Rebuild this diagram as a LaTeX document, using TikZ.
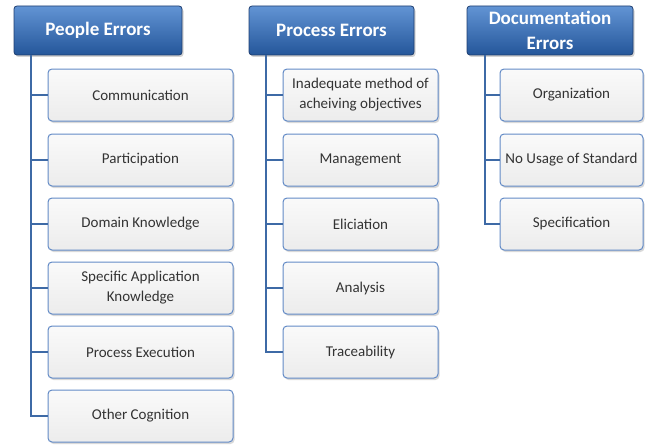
\documentclass[tikz,border=0pt]{standalone}
\usepackage{fontspec}
\setmainfont{Carlito}
\usetikzlibrary{shadows}
\definecolor{hdrtop}{RGB}{98,148,212}
\definecolor{hdrbot}{RGB}{36,86,154}
\definecolor{hdrline}{RGB}{30,62,112}
\definecolor{itemline}{RGB}{98,138,198}
\definecolor{itemtop}{RGB}{250,250,250}
\definecolor{itembot}{RGB}{236,236,236}
\definecolor{busline}{RGB}{62,106,166}
\tikzset{
  hdr/.style={draw=hdrline, line width=0.8pt, rounded corners=3pt, top color=hdrtop, bottom color=hdrbot,
    text=white, font=\bfseries\fontsize{19}{25}\selectfont, align=center, inner sep=0pt,
    minimum height=49pt, drop shadow={opacity=0.35, shadow xshift=1.5pt, shadow yshift=-2pt}},
  item/.style={draw=itemline, line width=1pt, rounded corners=4pt, top color=itemtop, bottom color=itembot,
    text=black!80, font=\fontsize{15}{20}\selectfont, align=center, inner sep=0pt,
    minimum height=52pt, drop shadow={opacity=0.3, shadow xshift=1.5pt, shadow yshift=-2pt}},
  branch/.style={draw=busline, line width=2.2pt}
}
\begin{document}
\begin{tikzpicture}[x=1pt,y=-1pt]
\useasboundingbox (0,0) rectangle (647,444);
% headers
\node[hdr, minimum width=168pt] (pe) at (98,30.5) {People Errors};
\node[hdr, minimum width=165pt] (pr) at (331.5,30.5) {Process Errors};
\node[hdr, minimum width=166pt] (de) at (550,30.5) {Documentation\\Errors};
% people errors
\node[item, minimum width=185pt] (pe-1) at (140.5,95) {Communication};
\node[item, minimum width=185pt] (pe-2) at (140.5,160) {Participation};
\node[item, minimum width=185pt] (pe-3) at (140.5,224) {Domain Knowledge};
\node[item, minimum width=185pt] (pe-4) at (140.5,288) {Specific Application\\Knowledge};
\node[item, minimum width=185pt] (pe-5) at (140.5,352) {Process Execution};
\node[item, minimum width=185pt] (pe-6) at (140.5,416) {Other Cognition};
% process errors
\node[item, minimum width=155pt] (pr-1) at (360.5,95) {Inadequate method of\\acheiving objectives};
\node[item, minimum width=155pt] (pr-2) at (360.5,160) {Management};
\node[item, minimum width=155pt] (pr-3) at (360.5,224) {Eliciation};
\node[item, minimum width=155pt] (pr-4) at (360.5,288) {Analysis};
\node[item, minimum width=155pt] (pr-5) at (360.5,352) {Traceability};
% documentation errors
\node[item, minimum width=143pt] (de-1) at (571.5,95) {Organization};
\node[item, minimum width=143pt] (de-2) at (571.5,160) {No Usage of Standard};
\node[item, minimum width=143pt] (de-3) at (571.5,224) {Specification};
% connectors
\coordinate (pe-bus) at ([xshift=17pt]pe.south west);
\coordinate (pr-bus) at ([xshift=17pt]pr.south west);
\coordinate (de-bus) at ([xshift=18pt]de.south west);
\draw[branch] (pe-bus) |- (pe-6.west);
\draw[branch] (pe-1.west) -- (pe-1.west -| pe-bus);
\draw[branch] (pe-2.west) -- (pe-2.west -| pe-bus);
\draw[branch] (pe-3.west) -- (pe-3.west -| pe-bus);
\draw[branch] (pe-4.west) -- (pe-4.west -| pe-bus);
\draw[branch] (pe-5.west) -- (pe-5.west -| pe-bus);
\draw[branch] (pr-bus) |- (pr-5.west);
\draw[branch] (pr-1.west) -- (pr-1.west -| pr-bus);
\draw[branch] (pr-2.west) -- (pr-2.west -| pr-bus);
\draw[branch] (pr-3.west) -- (pr-3.west -| pr-bus);
\draw[branch] (pr-4.west) -- (pr-4.west -| pr-bus);
\draw[branch] (de-bus) |- (de-3.west);
\draw[branch] (de-1.west) -- (de-1.west -| de-bus);
\draw[branch] (de-2.west) -- (de-2.west -| de-bus);
\end{tikzpicture}
\end{document}
